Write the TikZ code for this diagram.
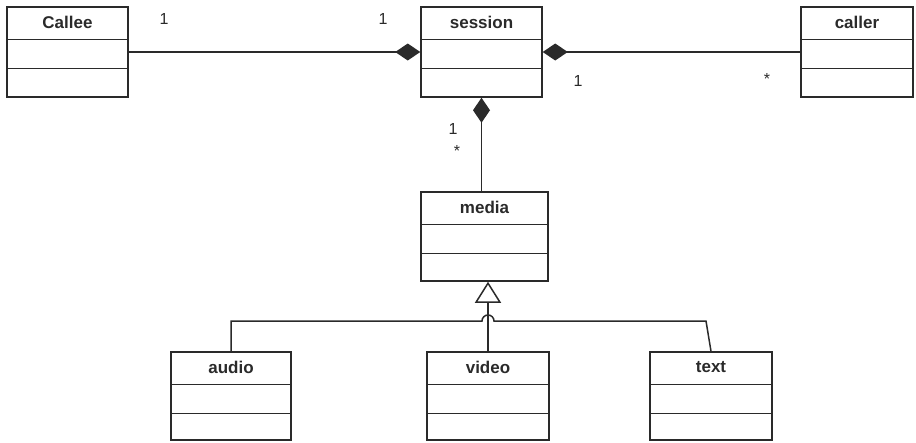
\documentclass[tikz,border=0pt]{standalone}
\usepackage{fontspec}
\setmainfont{Liberation Sans}
\usetikzlibrary{arrows.meta}
\definecolor{ink}{HTML}{2A2A2A}
\tikzset{
  cls/.style={draw=ink, line width=1.5pt, minimum width=121pt, minimum height=90pt, inner sep=0pt},
  hdr/.style={font=\bfseries\fontsize{17}{19}\selectfont, text=ink, inner sep=0pt},
  mult/.style={font=\fontsize{16}{18}\selectfont, text=ink, inner sep=0pt},
  conn/.style={draw=ink, line width=1.5pt},
  comp/.style={conn, -{Diamond[length=25pt,width=17pt,fill=ink]}},
  gen/.style={conn, -{Triangle[open,length=21pt,width=26pt,fill=white]}},
}
\newcommand{\umlbox}[6]{%
  \node[cls, minimum width=#4pt, minimum height=#5pt] (#1) at (#2,#3) {};
  \node[hdr] (#1-title) at ([yshift=-16pt]#1.north) {#6};
  \draw[conn] ([yshift=-33pt]#1.north west) -- ([yshift=-33pt]#1.north east);
  \draw[conn] ([yshift=-62pt]#1.north west) -- ([yshift=-62pt]#1.north east);
}
\begin{document}
\begin{tikzpicture}[x=1pt, y=-1pt]
  \useasboundingbox (0,0) rectangle (916,442);
  \umlbox{callee}{67.5}{52}{121}{90}{Callee}
  \umlbox{session}{481.5}{52}{121}{90}{session}
  \umlbox{caller}{857}{52}{112}{90}{caller}
  \umlbox{media}{484.5}{236.5}{127}{89}{media}
  \umlbox{audio}{231}{396}{120}{88}{audio}
  \umlbox{video}{488}{396}{122}{88}{video}
  \umlbox{text}{711}{396}{122}{88}{text}
  \coordinate (bus) at (0,321);
  % compositions
  \draw[comp] (callee.east) -- (session.west);
  \draw[comp] (caller.west) -- (session.east);
  \draw[comp] (session.south |- media.north) -- (session.south);
  % generalization
  \draw[gen] (video.north) -- (video.north |- media.south);
  \draw[conn] (audio.north) -- (audio.north |- bus)
    -- ([xshift=-6pt]video.north |- bus)
    arc[start angle=180, end angle=0, radius=6pt]
    -- ([xshift=-5pt]text.north |- bus) -- (text.north);
  % multiplicities
  \node[mult] (m1) at (164,19) {1};
  \node[mult] (m2) at (383,19) {1};
  \node[mult] (m3) at (578,81) {1};
  \node[mult] (m4) at (767,79) {*};
  \node[mult] (m5) at (453,129) {1};
  \node[mult] (m6) at (457,151) {*};
\end{tikzpicture}
\end{document}
